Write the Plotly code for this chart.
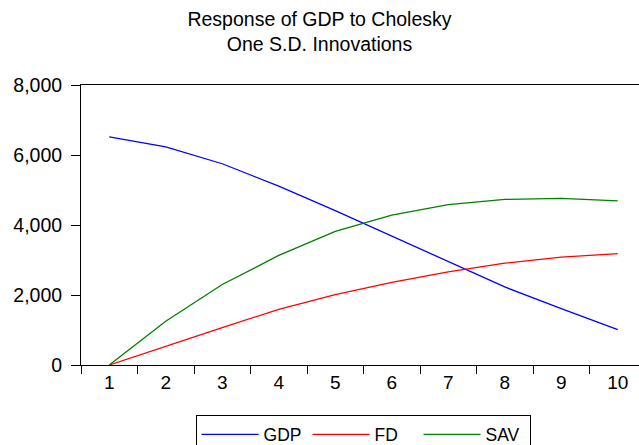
import plotly.graph_objects as go

periods = ["1", "2", "3", "4", "5", "6", "7", "8", "9", "10"]
gdp = [6520, 6230, 5750, 5110, 4410, 3690, 2950, 2230, 1610, 1010]
fd = [0, 545, 1070, 1590, 2010, 2360, 2660, 2910, 3080, 3180]
sav = [0, 1250, 2300, 3130, 3820, 4280, 4580, 4730, 4760, 4690]
series = [("GDP", gdp, "#0000FF"), ("FD", fd, "#FF0000"), ("SAV", sav, "#008000")]

FONT = "Liberation Sans, Arial, sans-serif"

fig = go.Figure()
for name, vals, color in series:
    fig.add_trace(go.Scatter(x=periods, y=vals, mode="lines", name=name,
                             line=dict(color=color, width=1.3)))

fig.update_layout(
    width=639, height=445,
    paper_bgcolor="white", plot_bgcolor="white",
    margin=dict(l=81, r=0, t=85, b=80, autoexpand=False),
    font=dict(family=FONT, size=19, color="black"),
    title=dict(text="Response of GDP to Cholesky<br>One S.D. Innovations",
               x=0.5, xanchor="center", xref="container",
               y=1 - 26 / 445, yanchor="top",
               font=dict(family=FONT, size=19.5, color="black")),
    showlegend=True,
    legend=dict(orientation="h", x=0.5054, xanchor="center", y=-0.18, yanchor="top",
                bordercolor="black", borderwidth=1, bgcolor="white",
                font=dict(family=FONT, size=17.5, color="black"),
                itemwidth=57, entrywidth=39, traceorder="normal"),
)

fig.update_xaxes(type="category", range=[-0.5, 9.376], showgrid=False, zeroline=False,
                 showline=True, linecolor="black", linewidth=1, mirror=True,
                 ticks="outside", tickson="boundaries", ticklen=8, tickcolor="black",
                 tickfont=dict(family=FONT, size=19, color="black"))
fig.update_yaxes(range=[0, 8000], tickvals=[0, 2000, 4000, 6000, 8000], tickformat=",d",
                 showgrid=False, zeroline=False, showline=True, linecolor="black", linewidth=1,
                 ticks="outside", ticklen=9, tickcolor="black", ticklabelstandoff=5,
                 tickfont=dict(family=FONT, size=19.5, color="black"))

fig.write_html("out.html", config={"displayModeBar": False},
               post_script="document.body.style.margin='0';document.body.style.overflow='hidden';")
